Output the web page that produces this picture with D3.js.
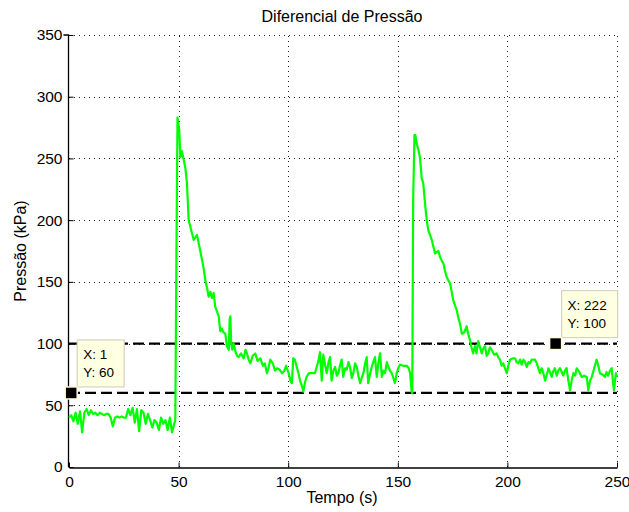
<!DOCTYPE html>
<html>
<head>
<meta charset="utf-8">
<script src="https://cdn.jsdelivr.net/npm/d3@7"></script>
<style>
  html, body { margin: 0; padding: 0; background: #fff; }
  svg { display: block; }
  text { font-family: "Liberation Sans", Arial, sans-serif; fill: #000; }
</style>
</head>
<body>
<div id="chart"></div>
<script>
// ---------- DATA ----------
const title = "Diferencial de Pressão";
const xLabel = "Tempo (s)";
const yLabel = "Pressão (kPa)";
const xTicks = [0, 50, 100, 150, 200, 250];
const yTicks = [0, 50, 100, 150, 200, 250, 300, 350];
const refLevels = [60, 100];
const dataTips = [
  { x: 1, y: 60 },
  { x: 222, y: 100 }
];

const times = [
  0,1,2,3,4,5,6,7,8,9,10,11,12,13,14,15,16,17,18,19,20,21,22,23,24,25,26,27,28,29,
  30,31,32,33,34,35,36,37,38,39,40,41,42,43,44,45,46,47,48,48.5,49,49.5,50.3,50.8,51.5,52.3,53.1,53.8,54.6,55.3,
  56,56.9,57.6,58.4,59.2,60,60.7,61.5,62.2,63,63.7,64.5,65.2,66,66.7,67.5,68.3,69,69.7,70.5,
  71.3,72,72.9,73.3,73.6,74,74.5,75.1,76,76.7,77.4,78.5,79.7,80.5,81.2,82,82.7,83.8,85,86,
  87.3,88.5,89.3,90.3,91,91.8,93,94,94.9,96,97.2,98.3,99,100.2,101,101.7,102.3,103,103.9,104.7,
  105.4,106.2,106.9,107.6,108.4,109.5,110.7,112.2,113,113.8,114.5,115.3,116,116.8,117.6,118.4,119.1,119.8,120.6,121.4,
  122.2,122.9,123.6,124.4,125.1,125.9,126.7,127.5,128.2,129,129.7,130.5,131.3,132,132.8,133.5,134.3,135,135.8,136.5,
  137.3,138.1,138.8,139.6,140.4,141.1,141.9,142.7,143.4,144.2,145,145.7,146.5,147.2,148,148.7,149.5,150.2,151,152.5,
  154.1,155,155.6,156.3,156.6,157,157.6,158,158.6,159.4,160.1,160.9,161.6,162.4,163.2,163.9,164.7,165.5,166.3,167,
  168.5,169.3,170.1,170.8,171.5,172.3,173.1,173.8,174.6,175.3,176.1,176.9,177.6,178.4,179.2,180.3,181.4,182.1,182.9,183.6,
  184.4,185.2,185.9,186.7,187.5,188.3,189,189.8,190.5,191.3,192,192.8,194,195.1,195.8,196.6,197.4,198.1,198.9,199.7,
  200.4,201.2,202.3,203.5,204.2,205,205.8,206.5,207.3,208.1,208.8,209.6,210.3,211.1,212,212.6,213.4,214.1,214.9,215.6,
  216.4,217.2,218,218.7,219.4,220.2,221,221.7,222.5,223.2,224,224.8,225.5,226.2,227,227.8,228.6,229.3,230.1,230.9,
  231.6,232.8,233.9,235,236.2,236.9,237.7,238.5,239.6,240.7,241.5,242.2,243.4,244.5,245.2,246,246.8,247.6,248.1,248.6,
  249.1,249.5,250
];
const pressure = [
  40,42,37,44,35,45,28,44,47,42,46,43,44,42,44,43,42,43,43,40,33,40,41,40,41,40,40,47,42,48,
  36,47,29,46,44,35,43,38,32,38,36,30,40,35,38,30,40,28,35,38,172,283,273,251,256,249,242,230,200,195,
  190,184,186,188,181,174,168,160,151,145,138,142,137,141,130,126,122,110,112,109,
  108,98,95,120,122,100,95,100,93,90,89,92,88,95,92,87,84,90,92,86,
  88,82,84,76,80,87,84,78,80,79,76,78,82,76,70,68,88,87,81,76,
  70,66,61,68,73,76,76,76,81,86,93,70,91,83,76,85,89,70,78,81,
  74,76,82,87,73,80,79,85,81,72,76,84,81,74,68,72,76,83,89,68,
  75,81,85,89,73,84,92,73,78,76,85,81,78,76,72,68,76,80,83,82,
  82,80,76,61,60,215,269,269,262,257,251,234,230,214,200,192,188,184,178,173,
  175,170,167,165,159,154,151,149,142,135,131,127,121,116,108,109,114,108,103,97,
  92,98,92,102,97,92,96,98,90,92,97,95,91,92,89,87,82,84,80,76,
  82,87,88,88,85,84,87,83,87,85,81,85,84,87,87,87,84,80,76,80,
  76,70,75,80,77,73,78,80,74,78,80,77,74,78,80,70,62,70,76,74,
  80,77,73,74,73,62,70,73,80,87,82,76,75,73,77,74,78,80,70,62,
  70,76,73
];

// ---------- LAYOUT ----------
const W = 629, H = 512;
const plot = { left: 69, right: 617, top: 35, bottom: 467 };

const x = d3.scaleLinear().domain([0, 250]).range([plot.left, plot.right]);
const y = d3.scaleLinear().domain([0, 350]).range([plot.bottom, plot.top]);

const svg = d3.select("#chart").append("svg")
  .attr("width", W).attr("height", H);

// grid (dotted)
const grid = svg.append("g").attr("stroke", "#222").attr("stroke-width", 1)
  .attr("stroke-dasharray", "1,4").attr("shape-rendering", "crispEdges");
grid.selectAll("line.gx").data(xTicks.filter(d => d > 0)).join("line")
  .attr("x1", d => Math.round(x(d)) + 0.5).attr("x2", d => Math.round(x(d)) + 0.5)
  .attr("y1", plot.bottom).attr("y2", plot.top);
grid.selectAll("line.gy").data(yTicks.filter(d => d > 0)).join("line")
  .attr("y1", d => Math.round(y(d)) + 0.5).attr("y2", d => Math.round(y(d)) + 0.5)
  .attr("x1", plot.left).attr("x2", plot.right);

// axes
const xAxis = d3.axisBottom(x).tickValues(xTicks).tickSizeInner(-5).tickSizeOuter(0).tickPadding(8);
const yAxis = d3.axisLeft(y).tickValues(yTicks).tickSizeInner(-5).tickSizeOuter(0).tickPadding(6);

const gx = svg.append("g").attr("transform", `translate(0,${plot.bottom + 0.5})`).call(xAxis);
const gy = svg.append("g").attr("transform", `translate(${plot.left - 0.5},0)`).call(yAxis);
[gx, gy].forEach(g => {
  g.select(".domain").attr("stroke", "#000").attr("stroke-width", 1.3);
  g.selectAll(".tick line").attr("stroke", "#000");
  g.selectAll(".tick text").attr("font-size", 15.5).attr("font-family", "Liberation Sans, Arial, sans-serif").attr("fill", "#000");
});
gy.select(".domain").attr("d", `M0,${plot.bottom}V${plot.top}H-5`);

// reference dashed lines
svg.append("g").selectAll("line").data(refLevels).join("line")
  .attr("x1", x(0)).attr("x2", x(250))
  .attr("y1", d => y(d)).attr("y2", d => y(d))
  .attr("stroke", "#000").attr("stroke-width", 2.2).attr("stroke-dasharray", "11,5");

// data line
const series = times.map((t, i) => ({ t, v: pressure[i] }));
const line = d3.line().x(d => x(d.t)).y(d => y(d.v));
svg.append("path").datum(series)
  .attr("d", line)
  .attr("fill", "none")
  .attr("stroke", "#00ff00")
  .attr("stroke-width", 2.2)
  .attr("stroke-linejoin", "round");

// data tips
const tipG = svg.append("g");
dataTips.forEach(dt => {
  const cx = x(dt.x), cy = y(dt.y);
  const lines = [`X: ${dt.x}`, `Y: ${dt.y}`];
  const bw = dt.x > 100 ? 56 : 47, bh = 47;
  const bx = cx + 6, by = cy - 53;
  tipG.append("rect").attr("x", bx).attr("y", by).attr("width", bw).attr("height", bh)
    .attr("fill", "#ffffe1").attr("stroke", "#d4d4c0").attr("stroke-width", 1.2);
  lines.forEach((s, i) => {
    tipG.append("text").attr("x", bx + 6).attr("y", by + 19 + i * 18)
      .attr("font-size", 13.5).text(s);
  });
  tipG.append("rect").attr("x", cx - 6).attr("y", cy - 6).attr("width", 12).attr("height", 12)
    .attr("fill", "#000").attr("stroke", "#fffbd8").attr("stroke-width", 1.5);
});

// titles
svg.append("text").attr("x", (plot.left + plot.right) / 2 - 1).attr("y", 22)
  .attr("text-anchor", "middle").attr("font-size", 16).text(title);
svg.append("text").attr("x", (plot.left + plot.right) / 2 - 1).attr("y", 503)
  .attr("text-anchor", "middle").attr("font-size", 16).text(xLabel);
svg.append("text").attr("transform", `translate(26,${(plot.top + plot.bottom) / 2}) rotate(-90)`)
  .attr("text-anchor", "middle").attr("font-size", 16).text(yLabel);
</script>
</body>
</html>
